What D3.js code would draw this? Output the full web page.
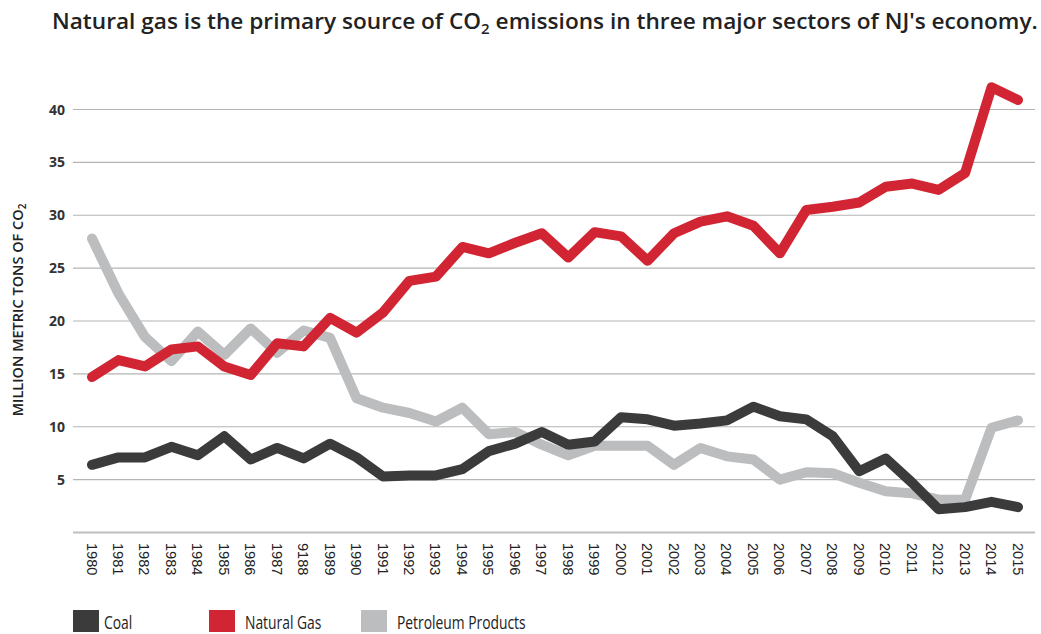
<!DOCTYPE html>
<html>
<head>
  <title>NJ CO2 emissions</title>
  <script src="https://d3js.org/d3.v7.min.js"></script>
  <style>
    body { margin: 0; background: #fff; }
  </style>
</head>
<body>
<div id="chart"></div>
<script type="text/javascript">

  var years = d3.range(1980, 2016);
  // the source prints 1988 as "9188", kept as-is
  var yearLabels = years.map(function(y){ return y == 1988 ? "9188" : String(y); });

  var coal = [6.4, 7.1, 7.1, 8.1, 7.3, 9.1, 6.9, 8.0, 7.0, 8.4, 7.1, 5.3, 5.4, 5.4, 6.0,
              7.7, 8.4, 9.5, 8.3, 8.6, 10.9, 10.7, 10.1, 10.3, 10.6, 11.9, 11.0, 10.7, 9.1,
              5.8, 7.0, 4.7, 2.2, 2.4, 2.9, 2.4];
  var naturalGas = [14.7, 16.3, 15.7, 17.3, 17.6, 15.7, 14.9, 17.9, 17.6, 20.3, 18.9, 20.8,
                    23.8, 24.2, 27.0, 26.4, 27.4, 28.3, 26.0, 28.4, 28.0, 25.7, 28.3, 29.4,
                    29.9, 29.0, 26.4, 30.5, 30.8, 31.2, 32.7, 33.0, 32.4, 34.0, 42.1, 40.9];
  var petroleum = [27.8, 22.6, 18.5, 16.2, 19.0, 16.8, 19.3, 17.0, 19.1, 18.4, 12.7, 11.8,
                   11.3, 10.5, 11.8, 9.3, 9.5, 8.3, 7.3, 8.2, 8.2, 8.2, 6.4, 8.0, 7.2, 6.9,
                   5.0, 5.7, 5.6, 4.7, 3.9, 3.7, 3.1, 3.1, 9.9, 10.6];
  var yTicks = [5, 10, 15, 20, 25, 30, 35, 40];

  var series = [
    {name: "Petroleum Products", values: petroleum, color: "#bbbdbe"},
    {name: "Coal", values: coal, color: "#3b3b3b"},
    {name: "Natural Gas", values: naturalGas, color: "#d12533"}
  ];
  var legendOrder = ["Coal", "Natural Gas", "Petroleum Products"];

  var width = 1041, height = 634;
  var svg = d3.select("#chart").append("svg").attr("width", width).attr("height", height);

  var x = d3.scaleLinear().domain([1980, 2015]).range([92, 1018]);
  var y = d3.scaleLinear().domain([0, 40]).range([532.5, 109.5]);

  // title, stretched to span the same width as the original
  var title = svg.append("text")
    .attr("x", 0).attr("y", 0)
    .attr("font-family", "Open Sans").attr("font-weight", 600)
    .attr("font-size", 21).attr("fill", "#222");
  title.append("tspan").text("Natural gas is the primary source of CO");
  title.append("tspan").attr("font-size", 14).attr("dy", 5).text("2");
  title.append("tspan").attr("dy", -5).text(" emissions in three major sectors of NJ's economy.");
  var tw = title.node().getBBox().width;
  title.attr("transform", "translate(52,29) scale(" + (986 / tw) + ",1)");

  // gridlines
  svg.append("g").selectAll("line").data(yTicks).enter().append("line")
    .attr("x1", 73).attr("x2", 1035)
    .attr("y1", function(d){ return y(d); }).attr("y2", function(d){ return y(d); })
    .attr("stroke", "#b4b4b4").attr("stroke-width", 1.2);

  svg.append("line").attr("x1", 73).attr("x2", 1035)
    .attr("y1", y(0)).attr("y2", y(0))
    .attr("stroke", "#bdbdbd").attr("stroke-width", 2);

  // y labels
  svg.append("g").selectAll("text").data(yTicks).enter().append("text")
    .attr("x", 65).attr("y", function(d){ return y(d) + 5; })
    .attr("text-anchor", "end")
    .attr("font-family", "Open Sans").attr("font-weight", 700).attr("font-size", 14)
    .attr("fill", "#333").text(function(d){ return d; });

  var yTitle = svg.append("text")
    .attr("transform", "translate(23,310) rotate(-90)")
    .attr("text-anchor", "middle")
    .attr("font-family", "Open Sans").attr("font-weight", 600).attr("font-size", 14.5)
    .attr("fill", "#222");
  yTitle.append("tspan").text("MILLION METRIC TONS OF CO");
  yTitle.append("tspan").attr("font-size", 10).attr("dy", 3).text("2");

  // x labels
  svg.append("g").selectAll("text").data(years).enter().append("text")
    .attr("transform", function(d){ return "translate(" + (x(d) - 5.5) + ",543) rotate(90)"; })
    .attr("font-family", "Liberation Sans, Arial").attr("font-size", 14.5)
    .attr("fill", "#222").text(function(d, i){ return yearLabels[i]; });

  // lines
  var line = d3.line().x(function(d, i){ return x(years[i]); }).y(function(d){ return y(d); });
  svg.append("g").selectAll("path").data(series).enter().append("path")
    .attr("d", function(s){ return line(s.values); })
    .attr("fill", "none")
    .attr("stroke", function(s){ return s.color; })
    .attr("stroke-width", 10)
    .attr("stroke-linejoin", "round").attr("stroke-linecap", "round");

  // legend
  var legendX = [73, 209, 361];
  var lg = svg.append("g").selectAll("g").data(legendOrder).enter().append("g")
    .attr("transform", function(d, i){ return "translate(" + legendX[i] + ",610)"; });
  lg.append("rect").attr("width", 26).attr("height", 22)
    .attr("fill", function(d){ return series.find(function(s){ return s.name == d; }).color; });
  lg.append("text")
    .attr("transform", function(d, i){ return "translate(" + (i == 0 ? 31 : 36) + ",19) scale(0.77,1)"; })
    .attr("font-family", "Open Sans").attr("font-weight", 500).attr("font-size", 18).attr("fill", "#222")
    .text(function(d){ return d; });

</script>
</body>
</html>
